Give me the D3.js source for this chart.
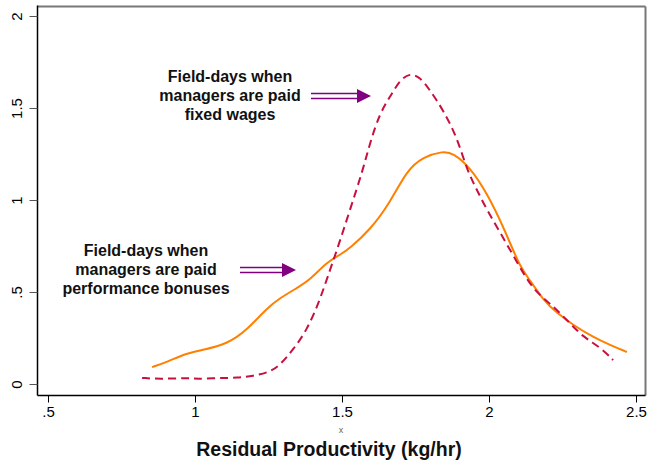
<!DOCTYPE html>
<html>
<head>
<meta charset="utf-8">
<script src="https://cdn.jsdelivr.net/npm/d3@7"></script>
<style>
  body { margin: 0; background: #fff; }
  text { font-family: "Liberation Sans", Arial, sans-serif; }
</style>
</head>
<body>
<div id="canvas"></div>
<script>
"use strict"

// kernel density values (x = residual productivity, y = density)
let fixedX = [0.82, 0.881, 0.973, 1.007, 1.085, 1.143, 1.197, 1.255, 1.289, 1.333, 1.381, 1.425, 1.459, 1.483, 1.527, 1.571, 1.595, 1.629, 1.663, 1.697, 1.731, 1.765, 1.799, 1.844, 1.891, 1.925, 1.959, 1.993, 2.037, 2.095, 2.15, 2.207, 2.265, 2.32, 2.378, 2.422];
let fixedY = [0.033, 0.027, 0.033, 0.027, 0.033, 0.033, 0.043, 0.065, 0.103, 0.185, 0.293, 0.457, 0.62, 0.728, 0.946, 1.163, 1.31, 1.473, 1.56, 1.652, 1.69, 1.668, 1.598, 1.489, 1.342, 1.163, 1.054, 0.946, 0.826, 0.663, 0.511, 0.44, 0.348, 0.255, 0.201, 0.13];

let bonusX = [0.854, 0.905, 0.973, 1.027, 1.109, 1.177, 1.245, 1.289, 1.347, 1.391, 1.449, 1.493, 1.527, 1.595, 1.663, 1.721, 1.776, 1.844, 1.878, 1.935, 1.993, 2.054, 2.105, 2.139, 2.184, 2.231, 2.286, 2.354, 2.412, 2.469];
let bonusY = [0.092, 0.12, 0.168, 0.185, 0.217, 0.293, 0.413, 0.467, 0.522, 0.565, 0.663, 0.701, 0.739, 0.837, 0.984, 1.163, 1.234, 1.266, 1.255, 1.179, 1.038, 0.837, 0.636, 0.565, 0.457, 0.386, 0.321, 0.255, 0.212, 0.174];

let xTicks = [0.5, 1, 1.5, 2, 2.5];
let xTickLabels = [".5", "1", "1.5", "2", "2.5"];
let yTicks = [0, 0.5, 1, 1.5, 2];
let yTickLabels = ["0", ".5", "1", "1.5", "2"];

let noteFixed = ["Field-days when", "managers are paid", "fixed wages"];
let noteBonus = ["Field-days when", "managers are paid", "performance bonuses"];

let W = 647, H = 461;
let box = { left: 37.5, top: 6.5, right: 645.5, bottom: 395.5 };

let drawing = d3.select("#canvas")
    .append("svg")
    .attr("width", W)
    .attr("height", H);

let x = d3.scaleLinear().domain([0.5, 2.5]).range([48, 636]);
let y = d3.scaleLinear().domain([0, 2]).range([384, 16]);

// frame: left/bottom black, top/right grey
drawing.append("line").attr("x1", box.left).attr("x2", box.right).attr("y1", box.top).attr("y2", box.top)
    .attr("stroke", "#777").attr("stroke-width", 2);
drawing.append("line").attr("x1", box.right).attr("x2", box.right).attr("y1", box.top).attr("y2", box.bottom)
    .attr("stroke", "#777").attr("stroke-width", 2);
drawing.append("line").attr("x1", box.left).attr("x2", box.left).attr("y1", box.top - 1).attr("y2", box.bottom)
    .attr("stroke", "#000").attr("stroke-width", 1.5);
drawing.append("line").attr("x1", box.left).attr("x2", box.right).attr("y1", box.bottom).attr("y2", box.bottom)
    .attr("stroke", "#000").attr("stroke-width", 1.5);

// x axis
let xAxis = d3.axisBottom(x).tickValues(xTicks).tickSize(7).tickPadding(4)
    .tickFormat((d, i) => xTickLabels[i]);
let gx = drawing.append("g").attr("transform", "translate(0," + box.bottom + ")").call(xAxis);
gx.select(".domain").remove();
gx.selectAll("text").attr("font-size", 15).attr("fill", "#000")
    .style("font-family", "'Liberation Sans', Arial, sans-serif");

// y axis, labels rotated like stata
let yAxis = d3.axisLeft(y).tickValues(yTicks).tickSize(8).tickFormat("");
let gy = drawing.append("g").attr("transform", "translate(" + box.left + ",0)").call(yAxis);
gy.select(".domain").remove();
gy.selectAll(".tick line").attr("stroke", "#555");
gy.selectAll(".tick").append("text")
    .attr("transform", "translate(-16,0) rotate(-90)")
    .attr("text-anchor", "middle")
    .attr("fill", "#000")
    .attr("font-size", 15)
    .text((d, i) => yTickLabels[i]);

// curves
let line = d3.line().x(d => x(d[0])).y(d => y(d[1])).curve(d3.curveBasis);

drawing.append("path")
    .datum(bonusX.map((v, i) => [v, bonusY[i]]))
    .attr("d", line)
    .attr("fill", "none")
    .attr("stroke", "#ff8000")
    .attr("stroke-width", 2);

drawing.append("path")
    .datum(fixedX.map((v, i) => [v, fixedY[i]]))
    .attr("d", line)
    .attr("fill", "none")
    .attr("stroke", "#c8103f")
    .attr("stroke-width", 2)
    .attr("stroke-dasharray", "8,5");

// annotations
function note(lines, cx, cy, gap) {
    let t = drawing.append("text")
        .attr("text-anchor", "middle")
        .attr("font-size", 16)
        .attr("font-weight", "bold")
        .attr("fill", "#111");
    lines.forEach((s, i) => {
        t.append("tspan").attr("x", cx).attr("y", cy + i * gap).text(s);
    });
}

function arrow(x0, x1, yy) {
    let col = "#800080";
    drawing.append("line").attr("x1", x0).attr("x2", x1 - 12).attr("y1", yy - 2.5).attr("y2", yy - 2.5)
        .attr("stroke", col).attr("stroke-width", 1.3);
    drawing.append("line").attr("x1", x0).attr("x2", x1 - 12).attr("y1", yy + 2.5).attr("y2", yy + 2.5)
        .attr("stroke", col).attr("stroke-width", 1.3);
    drawing.append("path")
        .attr("d", "M" + (x1 - 14) + "," + (yy - 7) + "L" + x1 + "," + yy + "L" + (x1 - 14) + "," + (yy + 7) + "Z")
        .attr("fill", col);
}

note(noteFixed, 230, 82, 19.2);
arrow(311, 371, 96);
note(noteBonus, 146, 256, 18.8);
arrow(240, 296, 270);

// axis title
drawing.append("text")
    .attr("x", 329).attr("y", 456)
    .attr("text-anchor", "middle")
    .attr("font-size", 19.5)
    .attr("font-weight", "bold")
    .attr("fill", "#111")
    .text("Residual Productivity (kg/hr)");

// stray 'x' variable name under the axis
drawing.append("text")
    .attr("x", 341).attr("y", 433)
    .attr("text-anchor", "middle")
    .attr("font-size", 9)
    .attr("fill", "#666")
    .text("x");
</script>
</body>
</html>
